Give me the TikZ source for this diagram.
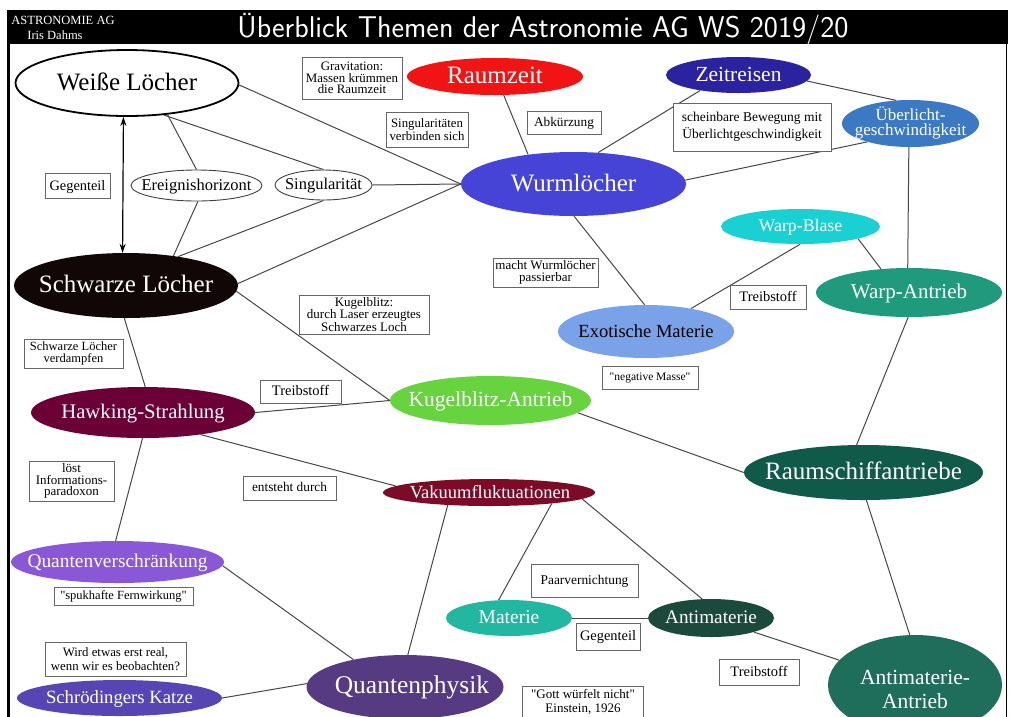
\documentclass[tikz,border=0pt]{standalone}
\usepackage{fontspec}
\setmainfont{Liberation Serif}[Ligatures=TeXOff]
\usetikzlibrary{shapes.geometric,arrows.meta}
\newcommand\fsz[2]{\fontsize{#1pt}{#2pt}\selectfont}
\definecolor{cSchw}{HTML}{110707}
\definecolor{cRaum}{HTML}{F01414}
\definecolor{cZeit}{HTML}{2A229E}
\definecolor{cUeber}{HTML}{3B79C3}
\definecolor{cWurm}{HTML}{4644D6}
\definecolor{cWBlase}{HTML}{19D0D3}
\definecolor{cWAntr}{HTML}{1F9A7C}
\definecolor{cExot}{HTML}{7AA2E8}
\definecolor{cKugel}{HTML}{66D33F}
\definecolor{cHawk}{HTML}{6A0036}
\definecolor{cRSA}{HTML}{0F5A48}
\definecolor{cVak}{HTML}{7B0B27}
\definecolor{cQV}{HTML}{8A57D6}
\definecolor{cMat}{HTML}{22B7A0}
\definecolor{cAnti}{HTML}{1B4A3D}
\definecolor{cQP}{HTML}{573B82}
\definecolor{cSK}{HTML}{5645B3}
\definecolor{cAA}{HTML}{1E6E5B}
\pgfdeclarelayer{back}
\pgfdeclarelayer{edges}
\pgfsetlayers{back,edges,main}
\begin{document}
\begin{tikzpicture}[x=1pt,y=-1pt,
  ell/.style={ellipse, inner sep=0pt, draw=none},
  etx/.style={inner sep=0pt, text=white, align=center},
  one/.style={execute at begin node={\vphantom{Äg}}},
  lbl/.style={draw=black!60, line width=0.9pt, fill=white, inner sep=0pt, align=center},
  conn/.style={draw=black!72, line width=1pt},
  dblarrow/.style={black, line width=1.2pt, {Stealth[length=9pt,width=6pt]}-{Stealth[length=9pt,width=6pt]}}
]
\useasboundingbox (0,0) rectangle (1016,716);
\begin{pgfonlayer}{back}
\fill[white] (0,0) rectangle (1016,716);
\end{pgfonlayer}
% frame
\fill[black] (7,10) rectangle (1008,44);
\draw[line width=3pt] (8.5,43) -- (8.5,720);
\draw[line width=1.6pt] (1006.5,43) -- (1006.5,720);
\node[anchor=base, text=white, font=\sffamily\fsz{30}{34}, inner sep=0pt] (title) at (543,37) {Überblick Themen der Astronomie AG WS 2019/20};
\node[anchor=base, text=white, font=\fsz{12.5}{14}, inner sep=0pt] (ag) at (63,24) {ASTRONOMIE AG};
\node[anchor=base, text=white, font=\fsz{12.5}{14}, inner sep=0pt] (iris) at (55,39) {Iris Dahms};

% ellipses
\node[ell, minimum width=223pt, minimum height=66pt, fill=white, draw=black, line width=1.8pt] (weiss) at (127,83) {};
\node[etx, one, text=black, font=\fsz{25}{29}] (weiss-t) at (weiss) {Weiße Löcher};
\node[ell, minimum width=224pt, minimum height=65pt, fill=cSchw] (schw) at (126,285.5) {};
\node[etx, one, font=\fsz{25}{29}] (schw-t) at (schw) {Schwarze Löcher};
\node[ell, minimum width=131pt, minimum height=31pt, fill=white, draw=black!75, line width=0.9pt] (ereig) at (196.5,185.5) {};
\node[etx, one, text=black, font=\fsz{16.5}{19}] (ereig-t) at (ereig) {Ereignishorizont};
\node[ell, minimum width=97pt, minimum height=30pt, fill=white, draw=black!75, line width=0.9pt] (sing) at (323.5,185) {};
\node[etx, one, text=black, font=\fsz{16.5}{19}] (sing-t) at (sing) {Singularität};
\node[ell, minimum width=176pt, minimum height=37pt, fill=cRaum] (raum) at (495,76.5) {};
\node[etx, one, font=\fsz{25}{29}] (raum-t) at (raum) {Raumzeit};
\node[ell, minimum width=145pt, minimum height=36pt, fill=cZeit] (zeit) at (738.5,75) {};
\node[etx, one, font=\fsz{21.5}{25}] (zeit-t) at (zeit) {Zeitreisen};
\node[ell, minimum width=137pt, minimum height=47pt, fill=cUeber] (ueber) at (910.5,123.5) {};
\node[etx, font=\fsz{17}{15.5}] (ueber-t) at (910.5,123) {Überlicht-\\geschwindigkeit};
\node[ell, minimum width=225pt, minimum height=64pt, fill=cWurm] (wurm) at (573.5,184) {};
\node[etx, one, font=\fsz{25}{29}] (wurm-t) at (wurm) {Wurmlöcher};
\node[ell, minimum width=159pt, minimum height=35pt, fill=cWBlase] (wblase) at (800.5,226.5) {};
\node[etx, one, font=\fsz{17.8}{21}] (wblase-t) at (wblase) {Warp-Blase};
\node[ell, minimum width=186pt, minimum height=49pt, fill=cWAntr] (wantr) at (909,292.5) {};
\node[etx, one, font=\fsz{21}{25}] (wantr-t) at (wantr) {Warp-Antrieb};
\node[ell, minimum width=176pt, minimum height=53pt, fill=cExot] (exot) at (646,331.5) {};
\node[etx, one, text=black, font=\fsz{18.5}{22}] (exot-t) at (exot) {Exotische Materie};
\node[ell, minimum width=201pt, minimum height=49pt, fill=cKugel] (kugel) at (490.5,400.5) {};
\node[etx, one, font=\fsz{21.5}{26}] (kugel-t) at (kugel) {Kugelblitz-Antrieb};
\node[ell, minimum width=224pt, minimum height=51pt, fill=cHawk] (hawk) at (143,412.5) {};
\node[etx, one, font=\fsz{20.7}{24}] (hawk-t) at (hawk) {Hawking-Strahlung};
\node[ell, minimum width=239pt, minimum height=55pt, fill=cRSA] (rsa) at (863.5,472.5) {};
\node[etx, one, font=\fsz{25}{29}] (rsa-t) at (rsa) {Raumschiffantriebe};
\node[ell, minimum width=212pt, minimum height=27pt, fill=cVak] (vak) at (489,492.5) {};
\node[etx, one, font=\fsz{18.5}{22}] (vak-t) at (490,492.5) {Vakuumfluktuationen};
\node[ell, minimum width=213pt, minimum height=42pt, fill=cQV] (qv) at (117.5,562) {};
\node[etx, one, font=\fsz{19.4}{23}] (qv-t) at (qv) {Quantenverschränkung};
\node[ell, minimum width=126pt, minimum height=36pt, fill=cMat] (mat) at (509,618) {};
\node[etx, one, font=\fsz{19.5}{23}] (mat-t) at (mat) {Materie};
\node[ell, minimum width=126pt, minimum height=38pt, fill=cAnti] (anti) at (711,618) {};
\node[etx, one, font=\fsz{19.2}{23}] (anti-t) at (anti) {Antimaterie};
\node[ell, minimum width=197pt, minimum height=64pt, fill=cQP] (qp) at (405,687) {};
\node[etx, one, font=\fsz{25.5}{29}] (qp-t) at (412,686) {Quantenphysik};
\node[ell, minimum width=205pt, minimum height=36pt, fill=cSK] (sk) at (119.5,698) {};
\node[etx, one, font=\fsz{18.7}{22}] (sk-t) at (sk) {Schrödingers Katze};
\node[ell, minimum width=174pt, minimum height=100pt, fill=cAA] (aa) at (915,685) {};
\node[etx, font=\fsz{21.5}{24}] (aa-t) at (915,689) {Antimaterie-\\Antrieb};

% label boxes
\node[lbl, one, minimum width=65pt, minimum height=25pt, font=\fsz{14.4}{17}] (gegen1) at (77.5,186) {Gegenteil};
\node[lbl, minimum width=100pt, minimum height=42pt, font=\fsz{12.9}{11.5}] (grav) at (352,78) {Gravitation:\\Massen krümmen\\die Raumzeit};
\node[lbl, minimum width=82pt, minimum height=35pt, font=\fsz{12.8}{13.5}] (singv) at (427,129.5) {Singularitäten\\verbinden sich};
\node[lbl, one, minimum width=74pt, minimum height=23pt, font=\fsz{13.3}{16}] (abk) at (564,122.5) {Abkürzung};
\node[lbl, minimum width=158pt, minimum height=48pt, font=\fsz{13.5}{17}] (schein) at (752,127) {scheinbare Bewegung mit\\Überlichtgeschwindigkeit};
\node[lbl, minimum width=105pt, minimum height=29pt, font=\fsz{13}{11.5}] (macht) at (545.5,272.5) {macht Wurmlöcher\\passierbar};
\node[lbl, one, minimum width=76pt, minimum height=24pt, font=\fsz{14.5}{17}] (treib1) at (768,297) {Treibstoff};
\node[lbl, minimum width=130pt, minimum height=39pt, font=\fsz{13}{11}] (kugelb) at (364,314.5) {Kugelblitz:\\durch Laser erzeugtes\\Schwarzes Loch};
\node[lbl, minimum width=99pt, minimum height=29pt, font=\fsz{12.5}{12.5}] (verd) at (73.5,353.5) {Schwarze Löcher\\verdampfen};
\node[lbl, one, minimum width=81pt, minimum height=23pt, font=\fsz{14.5}{17}] (treib2) at (300.5,391.5) {Treibstoff};
\node[lbl, one, minimum width=96pt, minimum height=23pt, font=\fsz{11.5}{14}] (negm) at (650,377.5) {"negative Masse"};
\node[lbl, minimum width=85pt, minimum height=40pt, font=\fsz{13}{11.5}] (loest) at (71.5,481) {löst\\Informations-\\paradoxon};
\node[lbl, one, minimum width=93pt, minimum height=24pt, font=\fsz{13.3}{16}] (entst) at (289.5,488) {entsteht durch};
\node[lbl, one, minimum width=107pt, minimum height=33pt, font=\fsz{13.4}{16}] (paar) at (584.5,580.5) {Paarvernichtung};
\node[lbl, one, minimum width=139pt, minimum height=18pt, font=\fsz{12.5}{15}] (spuk) at (123.5,596) {"spukhafte Fernwirkung"};
\node[lbl, one, minimum width=64pt, minimum height=27pt, font=\fsz{14.4}{17}] (gegen2) at (608,636.5) {Gegenteil};
\node[lbl, minimum width=141pt, minimum height=34pt, font=\fsz{12.8}{14.5}] (wird) at (115.5,659) {Wird etwas erst real,\\wenn wir es beobachten?};
\node[lbl, one, minimum width=80pt, minimum height=26pt, font=\fsz{14.5}{17}] (treib3) at (759,672) {Treibstoff};
\node[lbl, minimum width=121pt, minimum height=32pt, font=\fsz{13}{14.5}] (gott) at (583,702) {"Gott würfelt nicht"\\Einstein, 1926};

% connectors
\begin{pgfonlayer}{edges}
\draw[conn] (weiss.-38) -- (ereig.north);
\draw[conn] (weiss.-41) -- (sing.north);
\draw[conn] (weiss.-1) -- (wurm.west);
\draw[conn] (ereig.-85) -- (schw.32);
\draw[conn] (sing.-90) -- (schw.29);
\draw[conn] (sing.east) -- (wurm.west);
\draw[conn] (schw.1) -- (wurm.west);
\draw[conn] (schw.-3) -- (kugel.west);
\draw[conn] (schw.-93) -- (hawk.85);
\draw[conn] (raum.-65) -- (wurm.147);
\draw[conn] (wurm.52) -- (zeit.-158);
\draw[conn] (zeit.-5) -- (ueber.122);
\draw[conn] (wurm.2) -- (ueber.-157);
\draw[conn] (wurm.-89) -- (exot.93);
\draw[conn] (exot.27) -- (wblase.-91);
\draw[conn] (wblase.-12) -- (wantr.140);
\draw[conn] (ueber.-94) -- (wantr.93);
\draw[conn] (wantr.-92) -- (rsa.104);
\draw[conn] (kugel.-8.5) -- (rsa.west);
\draw[conn] (hawk.east) -- (kugel.west);
\draw[conn] (hawk.-21) -- (vak.176);
\draw[conn] (hawk.-91) -- (qv.95);
\draw[conn] (vak.-163) -- (qp.85);
\draw[conn] (vak.-10) -- (mat.120);
\draw[conn] (vak.-4) -- (anti.115);
\draw[conn] (mat.east) -- (anti.west);
\draw[conn] (anti) -- (aa);
\draw[conn] (rsa.-84) -- (aa.96);
\draw[conn] (qv.-2) -- (qp.152);
\draw[conn] (sk.east) -- (qp.178);
\end{pgfonlayer}
\draw[dblarrow] (weiss.-96) -- (schw.96);
\end{tikzpicture}
\end{document}
